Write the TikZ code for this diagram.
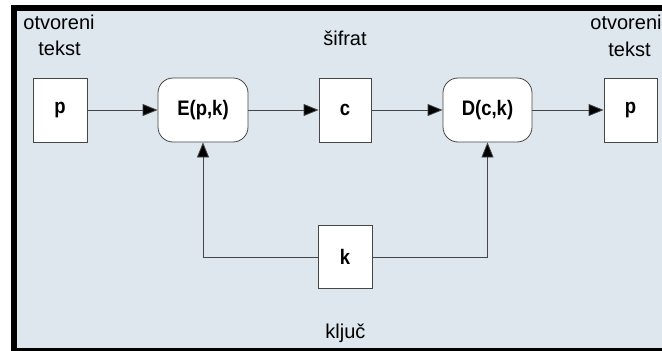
\documentclass[tikz,border=0pt]{standalone}
\usepackage{fontspec}
\setmainfont{Liberation Sans}
\newfontfamily\blockfont{Liberation Sans}[FakeStretch=0.88]
\usetikzlibrary{arrows.meta}
\definecolor{panel}{RGB}{221,231,237}
\definecolor{edge}{RGB}{70,70,70}
\begin{document}
\begin{tikzpicture}[x=1pt,y=-1pt,
  blk/.style={draw=edge,line width=0.8pt,fill=white,minimum height=64pt,
    inner sep=0pt,font=\blockfont\fontsize{21}{22}\selectfont\bfseries},
  sq/.style={blk,minimum width=54pt},
  fn/.style={blk,minimum width=90pt,rounded corners=15pt},
  label text/.style={font=\fontsize{20}{22}\selectfont,inner sep=0pt},
  flow/.style={draw=edge,line width=0.8pt,-{Triangle[length=15pt,width=12pt,fill=black]}}]
\useasboundingbox (0,0) rectangle (662,351);
% background panel and its frame
\fill[panel] (17,11) rectangle (662,348);
\fill[black] (11,5) rectangle (17,351);
\fill[black] (11,5) rectangle (662,11);
\fill[black] (11,348) rectangle (662,351);

% captions
\node[label text] (ot1) at (59,22) {otvoreni};
\node[label text] (te1) at (59.5,48) {tekst};
\node[label text] (ot2) at (626,22) {otvoreni};
\node[label text] (te2) at (629.5,49) {tekst};
\node[label text] (sif) at (345,38) {šifrat};
\node[label text] (klj) at (345.5,333) {ključ};

% blocks
\node[sq] (p1) at (60,110) {p};
\node[fn] (E) at (203,110) {E(p,k)};
\node[sq,minimum width=52pt] (c) at (345,110) {c};
\node[fn,minimum width=89pt] (D) at (487.5,110) {D(c,k)};
\node[sq,minimum width=53pt] (p2) at (630.5,110) {p};
\node[sq,minimum height=63pt] (k) at (345,257) {k};

% main chain
\draw[flow] (p1) -- (E);
\draw[flow] (E) -- (c);
\draw[flow] (c) -- (D);
\draw[flow] (D) -- (p2);

% key feeds both functions
\draw[flow] (k.west) -| (E.south);
\draw[flow] (k.east) -| (D.south);
\end{tikzpicture}
\end{document}
